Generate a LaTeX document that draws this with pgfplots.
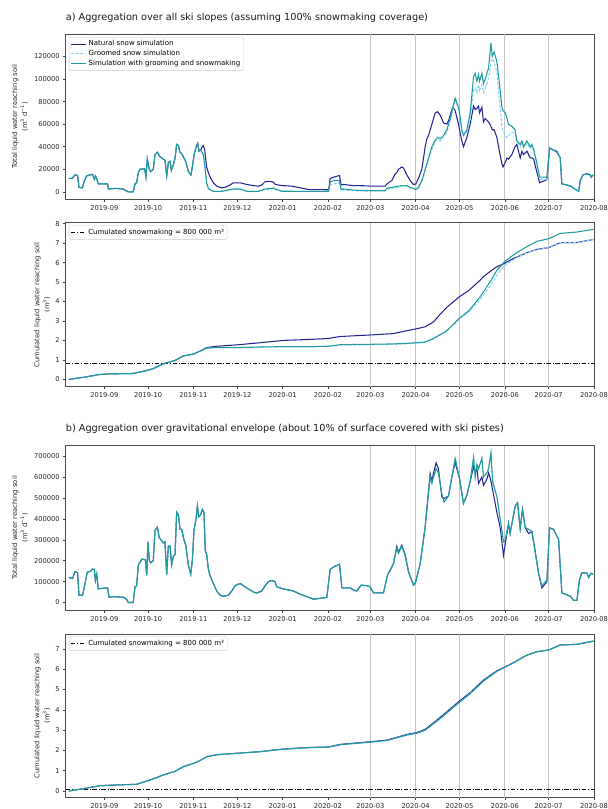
\documentclass[border=0pt]{standalone}
\usepackage{fontspec}
\setmainfont{DejaVu Sans}
\usepackage{pgfplots}
\usepackage{pgfplotstable}
\pgfplotsset{compat=1.18}

\definecolor{natc}{RGB}{35,35,150}
\definecolor{groc}{RGB}{135,206,250}
\definecolor{snoc}{RGB}{30,155,155}
\definecolor{vgrid}{RGB}{195,195,195}

% Panel a) daily
\pgfplotstableread{
d nat gro sno
6.8 11800 11800 11800
9 12000 12000 12000
11 15000 15000 15000
12.7 14500 14500 14500
13.7 4000 4000 4000
16 3500 3500 3500
17.2 9000 9000 9000
18.9 14000 14000 14000
21 15000 15000 15000
23 15500 15500 15500
24.2 11000 11000 11000
25 14000 14000 14000
25.7 12000 12000 12000
26.9 7000 7000 7000
30 7000 7000 7000
33.3 7000 7000 7000
33.8 2500 2500 2500
38 3000 3000 3000
44 2500 2500 2500
45.8 1000 1000 1000
47.4 0 0 0
50.8 0 0 0
52 7000 7000 7000
53.1 8000 8000 8000
54.3 17000 17000 17000
55.4 20000 20000 20000
58.6 20500 20500 20500
59.5 13000 13000 13000
60.4 29000 29000 29000
61.8 20000 20000 20000
62.7 18000 18000 18000
64.5 20000 20000 20000
65.7 33000 33000 33000
67.3 35000 35000 35000
69.1 31000 31000 31000
71.4 29000 29000 29000
72.5 28000 28000 28000
73.7 14000 14000 14000
74.8 26000 26000 26000
76 27000 27000 27000
76.9 19000 19000 19000
78.2 24000 24000 24000
79.4 30000 30000 30000
80.5 42000 42000 42000
81.7 41000 41000 41000
82.8 35000 35000 35000
83.9 34000 34000 34000
85.5 30000 30000 30000
86.7 27000 27000 27000
88.5 18000 18000 18000
90.3 15000 15000 15000
91.2 22000 22000 22000
92.6 34000 34000 34000
93.7 39000 39000 39000
94.9 43000 43000 43000
95.8 36000 36000 36000
96.5 37000 37000 37000
97 37000 36000 37000
98 40000 34000 35000
98.7 41000 32000 33000
99.6 38000 24000 25000
101 22000 7000 8000
102.2 17000 2500 3000
103.8 12000 1200 1500
105.6 8000 400 500
107.9 5000 200 300
111.3 3500 300 500
113.6 4000 700 1000
117 6000 1500 2000
119.3 8000 2000 2500
123.9 8000 2000 2500
128.4 6500 300 500
133 5500 200 300
136.4 5000 300 500
138.7 6000 1000 1500
141 9000 2000 2500
145.5 9000 2500 3000
146.7 8500 3000 3500
148 6500 2000 2500
152.5 5500 300 500
159.4 5000 300 500
165 3500 200 300
170.8 2000 200 300
175 2000 200 300
183.2 1800 200 300
184.5 1800 300 500
185.5 11800 6000 8500
187.8 13000 7000 10000
191.9 14500 7500 10000
193 6000 1500 2000
194.6 6500 1500 2500
201.5 5500 1000 1500
210.6 5300 700 1000
213 5000 600 1000
223.1 5000 600 1000
224.3 7000 2500 3000
227.7 10000 3000 4000
230 16000 3500 4500
231.1 17000 4000 5000
232.3 20000 4000 5000
234.5 22000 5000 5500
235.7 21000 5000 5500
238 15000 5000 5500
240.2 10000 3500 4000
242.5 6500 2500 3000
244.1 7000 1500 2000
246 12000 3500 4000
248.2 20000 9000 10000
249.4 30000 14000 15000
250.5 40000 19000 20000
251.7 47000 24000 25000
252.8 50000 29000 30000
255.1 60000 38000 40000
257.4 70000 45000 46000
258.9 71000 46000 48000
260.8 68000 45000 47000
263.1 61000 48000 50000
265.3 60000 53000 55000
266.5 63000 58000 60000
267.6 68000 63000 65000
269.4 75000 73000 75000
271 72000 82000 83000
273.3 60000 74000 75000
274 55000 69000 70000
275.6 45000 54000 55000
276.7 40000 50000 50000
279 48000 53000 55000
281.3 60000 65000 70000
283.6 76000 90000 102000
284.7 73000 92000 105000
285.9 74000 88000 98000
287 76000 95000 104000
287.7 70000 90000 98000
289.3 75000 95000 105000
290.4 62000 88000 96000
291.6 65000 92000 100000
293.9 62000 100000 110000
295.5 58000 115000 132000
296.4 55000 118000 120000
297.7 55000 115000 124000
299.6 48000 105000 115000
301.4 35000 80000 95000
303 25000 58000 75000
303.7 22000 55000 72000
305.3 26000 50000 70000
306.5 30000 48000 65000
307.5 29000 50000 60000
309.8 33000 53000 58000
312 40000 52000 55000
313.2 42000 45000 45000
315.5 30000 40000 42000
316.7 36000 44000 45000
317.8 33000 39000 40000
320.1 36000 43000 45000
322.4 30000 38000 40000
323.5 30000 40000 42000
324.7 29000 36000 38000
327 17000 22000 25000
328.8 8000 11000 13000
330.3 9000 11000 13000
332.6 10000 11000 13000
333.8 11000 11000 13000
335.6 38000 38000 39000
338.3 37000 37000 37000
340.6 36000 35000 35000
342.9 30000 30000 30000
344 7000 7000 7000
347.5 6000 6000 6000
351 4500 4500 4500
352 3000 3000 3000
354.8 1000 1000 1000
355.5 500 500 500
356.6 10000 10000 10000
358.4 15000 15000 15000
361.2 16000 16000 16000
363.4 15000 15000 15000
364.1 13000 13000 13000
365.3 15000 15000 15000
}\tA

% Panel a) cumulated (1e6)
\pgfplotstableread{
d nat gro sno
6.8 0 0 0
16.6 0.1 0.1 0.1
28 0.25 0.25 0.25
34.9 0.28 0.28 0.28
50.8 0.3 0.3 0.3
60 0.45 0.45 0.45
64.5 0.55 0.55 0.55
71.4 0.8 0.8 0.8
79.4 0.97 0.97 0.97
85 1.2 1.2 1.2
91.9 1.3 1.3 1.3
96.5 1.45 1.45 1.45
101 1.63 1.6 1.6
107.9 1.7 1.64 1.64
121.6 1.77 1.63 1.63
137.5 1.88 1.66 1.66
153.5 2.0 1.67 1.68
171.8 2.05 1.67 1.68
184.3 2.1 1.69 1.7
192.3 2.2 1.76 1.78
213.1 2.28 1.78 1.8
228.8 2.35 1.8 1.82
238 2.5 1.83 1.85
244.8 2.6 1.86 1.88
250.5 2.7 1.9 1.92
256.2 2.95 2.08 2.1
260.8 3.35 2.28 2.3
265.3 3.7 2.48 2.5
274 4.25 3.1 3.15
280.2 4.56 3.45 3.51
288.2 5.1 4.1 4.25
290.4 5.28 4.35 4.5
295 5.55 4.8 5.02
299.6 5.79 5.35 5.6
304.8 5.96 5.85 6.05
311 6.22 6.15 6.4
313.2 6.28 6.25 6.51
320.1 6.51 6.5 6.82
327 6.68 6.68 7.09
335 6.77 6.77 7.23
342.9 7.02 7.02 7.5
354.3 7.03 7.03 7.57
365.7 7.19 7.19 7.71
}\tB

% Panel b) daily
\pgfplotstableread{
d nat gro sno
6.8 120000 120000 120000
9.3 115000 115000 115000
10.9 147000 147000 147000
12.7 143000 143000 143000
13.7 35000 35000 35000
16.2 35000 35000 35000
17.8 90000 90000 90000
19.4 145000 145000 145000
21.3 148000 148000 148000
23 160000 160000 160000
24.2 158000 158000 158000
24.9 105000 105000 105000
25.8 135000 135000 135000
26.9 65000 65000 65000
30.4 68000 68000 68000
33.3 70000 70000 70000
34.2 25000 25000 25000
37.2 28000 28000 28000
44 25000 25000 25000
46.3 15000 15000 15000
47.4 0 0 0
50.8 0 0 0
52 75000 75000 75000
53.1 80000 80000 80000
54.3 180000 180000 180000
56.6 207000 207000 207000
59.1 205000 205000 205000
60 130000 130000 130000
60.9 290000 290000 290000
61.8 200000 200000 200000
62.7 190000 190000 190000
64.5 200000 200000 200000
65.7 345000 345000 345000
67.3 360000 360000 360000
68.6 310000 310000 310000
71.4 285000 285000 285000
72.5 290000 290000 290000
73.7 135000 135000 135000
74.8 270000 270000 270000
76 270000 270000 270000
77.1 180000 180000 180000
78.2 220000 220000 220000
79.4 230000 230000 230000
80.5 432000 432000 432000
81.7 420000 420000 420000
82.8 350000 350000 350000
83.9 350000 350000 350000
85.5 300000 300000 300000
86.7 275000 275000 275000
88.5 180000 180000 180000
90.1 135000 135000 135000
91.2 200000 200000 200000
92.4 350000 350000 350000
93.8 400000 400000 400000
94.7 462000 462000 462000
95.6 410000 410000 410000
96.9 420000 420000 420000
98.1 445000 445000 445000
99.2 430000 430000 430000
100.1 247000 247000 247000
101 230000 230000 230000
102.2 160000 160000 160000
103.3 130000 130000 130000
105.6 90000 90000 90000
107.9 55000 55000 55000
110.2 35000 35000 35000
112.5 30000 30000 30000
115.9 35000 35000 35000
118.2 55000 55000 55000
120.5 80000 80000 80000
122.7 88000 88000 88000
124.3 90000 90000 90000
126.1 80000 80000 80000
129.5 65000 65000 65000
133 50000 50000 50000
135.2 45000 45000 45000
138.7 55000 55000 55000
141 80000 80000 80000
143.3 100000 100000 100000
145.5 105000 105000 105000
147.8 100000 100000 100000
148.9 75000 75000 75000
153.5 65000 65000 65000
160.3 55000 55000 55000
165 40000 40000 40000
174.1 16000 16000 16000
183.2 24000 24000 24000
185.5 158000 158000 158000
187.8 170000 170000 170000
191.9 183000 183000 183000
193.5 70000 70000 70000
199.2 70000 70000 70000
201.5 59000 59000 59000
203.7 55000 55000 55000
206.7 83000 83000 83000
210.6 80000 80000 80000
212.9 75000 75000 75000
215.1 46000 46000 46000
222 46000 46000 46000
224.7 130000 130000 130000
227.7 170000 170000 170000
228.8 186000 186000 186000
231.1 269000 260000 260000
232.2 240000 235000 235000
234.5 274000 268000 268000
236.8 230000 225000 225000
239.1 147000 147000 147000
242.5 83000 83000 83000
244.1 100000 100000 100000
247.1 186000 186000 186000
250.5 362000 362000 362000
253.9 617000 600000 600000
255.1 580000 570000 570000
256.2 620000 600000 600000
258 668000 640000 640000
259.6 640000 620000 620000
261.9 505000 520000 520000
263.5 497000 480000 480000
266.5 510000 510000 510000
268.8 601000 601000 601000
271 670000 690000 690000
274 593000 593000 593000
276.7 473600 473600 473600
279 513000 513000 513000
281.3 580000 580000 580000
283.6 650000 694000 694000
284.7 620000 600000 600000
285.9 640000 660000 660000
287 570000 640000 640000
289.3 600000 689000 689000
290.4 560000 600000 600000
292.7 590000 620000 620000
293.9 620000 640000 640000
295.5 580000 716000 716000
296.6 540000 580000 580000
299.6 430000 505000 505000
301.8 360000 400000 400000
304.1 226000 290000 290000
305.3 280000 300000 300000
307.5 378000 378000 378000
308.6 330000 330000 330000
312.1 461000 461000 461000
313.7 477000 477000 477000
315.5 354000 354000 354000
317.1 445000 445000 445000
318.9 360000 360000 360000
321.2 330000 350000 350000
323.5 340000 340000 340000
325.8 242000 242000 242000
328.1 139000 139000 139000
330.3 70000 80000 80000
333.8 100000 107000 107000
335.6 357000 357000 357000
338.3 350000 350000 350000
341.8 301000 301000 301000
344 46000 46000 46000
349.8 30000 30000 30000
352.1 10000 10000 10000
354.3 10000 10000 10000
356.1 110000 110000 110000
357.8 142000 142000 142000
361.2 140000 140000 140000
362.3 120000 120000 120000
363.9 140000 140000 140000
365.3 135000 135000 135000
}\tC

% Panel b) cumulated (1e7)
\pgfplotstableread{
d nat gro sno
6.8 0 0 0
16.6 0.115 0.115 0.115
28 0.26 0.26 0.26
39.4 0.3 0.3 0.3
53.1 0.33 0.33 0.33
60 0.49 0.49 0.49
64.5 0.6 0.6 0.6
71.4 0.79 0.79 0.79
79.4 0.97 0.97 0.97
85 1.2 1.2 1.2
91.9 1.36 1.36 1.36
96.5 1.5 1.5 1.5
101 1.69 1.69 1.69
107.9 1.79 1.79 1.79
121.6 1.86 1.86 1.86
137.5 1.94 1.94 1.94
153.5 2.07 2.06 2.06
171.8 2.15 2.14 2.14
184.3 2.17 2.16 2.16
192.3 2.3 2.28 2.28
213.1 2.43 2.41 2.41
224.3 2.51 2.49 2.49
238 2.79 2.76 2.76
244.8 2.88 2.85 2.85
250.5 3.04 3.0 3.0
260.8 3.63 3.58 3.57
274 4.44 4.39 4.38
281.3 4.85 4.81 4.8
290.4 5.47 5.43 5.42
299.6 5.93 5.9 5.9
304.8 6.1 6.09 6.1
311 6.33 6.32 6.33
320.1 6.7 6.69 6.7
327 6.87 6.86 6.87
335 6.95 6.95 6.95
342.9 7.2 7.2 7.2
354.3 7.23 7.23 7.23
365.7 7.39 7.39 7.39
}\tD

\pgfplotsset{
  base/.style={
    scale only axis, width=528.3pt, xmin=4.6, xmax=366,
    anchor=north west,
    axis line style={black!70, line width=0.6pt},
    tick align=outside, xtick pos=bottom, ytick pos=left,
    major tick length=2.5pt,
    tick style={black!75, line width=0.5pt},
    xtick={31,61,92,122,153,184,213,244,274,305,335,366},
    xticklabels={2019-09,2019-10,2019-11,2019-12,2020-01,2020-02,2020-03,2020-04,2020-05,2020-06,2020-07,2020-08},
    ticklabel style={font=\fontsize{6.7}{8}\selectfont, text=black!85},
    extra x ticks={213,244,274,305,335},
    extra x tick labels={},
    extra x tick style={grid=major, major grid style={vgrid, line width=0.8pt}},
    scaled y ticks=false,
    ylabel style={font=\fontsize{6.8}{10}\selectfont, align=center, text=black!85, anchor=center},
    legend cell align=left,
    legend image code/.code={\draw[##1] (0pt,0pt) -- (15pt,0pt);},
    legend style={at={(axis description cs:0.006,0.984)}, anchor=north west,
      draw=black!20, rounded corners=1.5pt, fill=white, fill opacity=0.8, text opacity=1,
      font=\fontsize{7}{8}\selectfont, row sep=-1pt, inner sep=1.5pt},
  },
  natl/.style={natc, line width=1.05pt},
  grol/.style={groc, line width=1.05pt, dash pattern=on 3pt off 1.6pt},
  snol/.style={snoc, line width=1.05pt},
  smk/.style={black, line width=0.7pt, dash pattern=on 4.5pt off 1.8pt on 0.8pt off 1.8pt},
}

\begin{document}
\begin{tikzpicture}
\useasboundingbox (0,0) rectangle (608pt,-809pt);

\node[anchor=west, inner sep=0pt, font=\fontsize{9.7}{11}\selectfont, text=black!90] at (65.7pt,-18.3pt)
  {a) Aggregation over all ski slopes (assuming 100\% snowmaking coverage)};
\node[anchor=west, inner sep=0pt, font=\fontsize{9.7}{11}\selectfont, text=black!90] at (65.7pt,-429.3pt)
  {b) Aggregation over gravitational envelope (about 10\% of surface covered with ski pistes)};

% Panel 1
\begin{axis}[base, at={(65.7pt,-34.3pt)}, height=165pt,
  ymin=-6650, ymax=139650,
  ytick={0,20000,40000,60000,80000,100000,120000},
  yticklabels={0,20000,40000,60000,80000,100000,120000},
  ylabel={Total liquid water reaching soil\\(m\textsuperscript{3} d\textsuperscript{−1})},
  ylabel style={at={(axis description cs:-0.0863,0.5)}},
]
\addplot[natl] table[x=d,y=nat]{\tA};
\addlegendentry{Natural snow simulation}
\addplot[grol] table[x=d,y=gro]{\tA};
\addlegendentry{Groomed snow simulation}
\addplot[snol] table[x=d,y=sno]{\tA};
\addlegendentry{Simulation with grooming and snowmaking}
\end{axis}

% Panel 2
\begin{axis}[base, at={(65.7pt,-222.7pt)}, height=164pt,
  ymin=-0.38, ymax=8.05,
  ytick={0,1,2,3,4,5,6,7,8},
  yticklabels={0,1,2,3,4,5,6,7,8},
  ylabel={Cumulated liquid water reaching soil\\(m\textsuperscript{3})},
  ylabel style={at={(axis description cs:-0.0442,0.5)}},
]
\addplot[smk] coordinates {(4.6,0.8) (366,0.8)};
\addlegendentry{Cumulated snowmaking = 800 000 m³}
\addplot[natl, forget plot] table[x=d,y=nat]{\tB};
\addplot[grol, forget plot] table[x=d,y=gro]{\tB};
\addplot[snol, forget plot] table[x=d,y=sno]{\tB};
\node[anchor=south west, inner sep=0pt, font=\fontsize{6.7}{8}\selectfont, text=black!85] at (rel axis cs:0,1) [yshift=2pt] {1e6};
\end{axis}

% Panel 3
\begin{axis}[base, at={(65.7pt,-445.7pt)}, height=164.3pt,
  ymin=-36000, ymax=750000,
  ytick={0,100000,200000,300000,400000,500000,600000,700000},
  yticklabels={0,100000,200000,300000,400000,500000,600000,700000},
  ylabel={Total liquid water reaching soil\\(m\textsuperscript{3} d\textsuperscript{−1})},
  ylabel style={at={(axis description cs:-0.0863,0.5)}},
]
\addplot[natl] table[x=d,y=nat]{\tC};
\addplot[grol] table[x=d,y=gro]{\tC};
\addplot[snol] table[x=d,y=sno]{\tC};
\end{axis}

% Panel 4
\begin{axis}[base, at={(65.7pt,-634pt)}, height=163.7pt,
  ymin=-0.33, ymax=7.74,
  ytick={0,1,2,3,4,5,6,7},
  yticklabels={0,1,2,3,4,5,6,7},
  ylabel={Cumulated liquid water reaching soil\\(m\textsuperscript{3})},
  ylabel style={at={(axis description cs:-0.0442,0.5)}},
]
\addplot[smk] coordinates {(4.6,0.08) (366,0.08)};
\addlegendentry{Cumulated snowmaking = 800 000 m³}
\addplot[natl, forget plot] table[x=d,y=nat]{\tD};
\addplot[grol, forget plot] table[x=d,y=gro]{\tD};
\addplot[snol, forget plot] table[x=d,y=sno]{\tD};
\node[anchor=south west, inner sep=0pt, font=\fontsize{6.7}{8}\selectfont, text=black!85] at (rel axis cs:0,1) [yshift=2pt] {1e7};
\end{axis}
\end{tikzpicture}
\end{document}
